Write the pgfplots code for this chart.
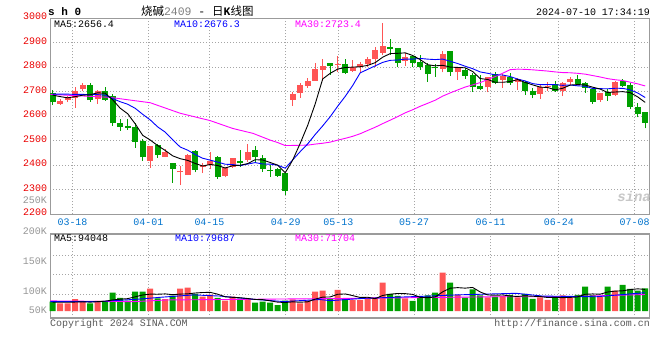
\documentclass[border=0pt]{standalone}
\usepackage{pgfplots}
\pgfplotsset{compat=1.18}
\usepackage{pgfplotstable}
\usepackage{fontspec}
\setmainfont{Liberation Mono}
\newfontfamily\cjk{Noto Sans CJK SC}
\definecolor{kred}{RGB}{255,85,85}
\definecolor{kgreen}{RGB}{0,160,0}
\definecolor{tred}{RGB}{235,0,0}
\definecolor{tblue}{RGB}{0,115,205}
\definecolor{grd}{RGB}{165,165,165}
\definecolor{frm}{RGB}{155,155,155}
\definecolor{vgray}{RGB}{150,150,150}
\definecolor{mag}{RGB}{255,0,255}
\definecolor{mablue}{RGB}{0,0,255}

\pgfplotstableread{
i O H L C V
1 2651 2669 2647 2662 33.5
2 2667 2682 2657 2677 33.5
3 2673 2721 2635 2704 52
4 2710 2734 2701 2729 40.7
6 2669 2707 2650 2701 43.6
13 2419 2478 2390 2477 97
15 2434 2466 2433 2454 52
17 2371 2395 2319 2375 97
18 2360 2444 2360 2442 101.6
20 2392 2410 2368 2401 62.4
21 2400 2452 2383 2418 71
23 2357 2394 2350 2390 45
24 2394 2431 2390 2428 62.4
26 2421 2485 2414 2452 53.7
32 2666 2700 2643 2691 50.8
33 2693 2734 2676 2727 33.5
34 2723 2755 2716 2744 45
35 2744 2816 2744 2793 84
36 2789 2833 2744 2805 88.5
38 2810 2846 2782 2814 91.4
40 2786 2829 2782 2802 48
41 2799 2823 2775 2813 48
42 2812 2843 2802 2833 59.5
43 2832 2881 2802 2870 59.5
44 2859 2982 2850 2886 123.3
47 2827 2859 2805 2843 55.2
52 2793 2867 2779 2854 166.8
54 2779 2795 2748 2795 69.7
58 2718 2761 2697 2761 59.5
60 2748 2771 2716 2765 65.3
62 2738 2755 2707 2750 59.5
65 2690 2727 2670 2720 59.5
66 2721 2741 2704 2725 48
68 2704 2741 2682 2734 68.2
69 2741 2761 2727 2752 58
73 2666 2696 2659 2696 62.4
75 2687 2745 2682 2741 88.5
}\redtab

\pgfplotstableread{
i O H L C V
0 2695 2705 2645 2656 40.7
5 2729 2734 2659 2666 33.5
7 2701 2721 2663 2668 43.6
8 2684 2691 2561 2571 79.8
9 2571 2590 2541 2557 56.6
10 2560 2587 2544 2553 45
11 2556 2574 2471 2496 84
12 2500 2507 2418 2432 84
14 2482 2486 2431 2442 55
16 2409 2410 2329 2386 66.8
19 2458 2461 2371 2380 74
22 2433 2439 2344 2353 56.6
25 2417 2462 2394 2410 53.7
27 2462 2477 2414 2432 36.4
28 2431 2442 2374 2385 40.7
29 2380 2401 2353 2376 36.4
30 2384 2390 2353 2356 26
31 2367 2369 2280 2296 45
37 2816 2816 2768 2806 55
39 2813 2833 2772 2775 52.3
45 2881 2914 2850 2876 74
46 2877 2878 2802 2818 65.3
48 2846 2850 2802 2816 43.6
49 2823 2850 2789 2802 58
50 2809 2818 2741 2772 68.2
51 2802 2813 2761 2795 79.8
53 2867 2867 2765 2779 123.3
55 2789 2798 2752 2765 58
56 2768 2775 2700 2718 94.3
57 2725 2768 2707 2711 68.2
59 2771 2780 2730 2737 62.4
61 2761 2775 2727 2734 69.7
63 2741 2745 2686 2703 74
64 2703 2714 2673 2687 52.3
67 2731 2745 2700 2704 62.4
70 2752 2768 2727 2731 69.7
71 2734 2741 2696 2716 105.9
72 2710 2714 2650 2659 69.7
74 2700 2710 2663 2682 105.9
76 2745 2752 2720 2723 113.2
77 2727 2737 2628 2639 95.8
78 2639 2655 2595 2609 88.5
79 2617 2617 2550 2574 98.7
}\greentab

\pgfplotstableread{
x y
0 2686
1 2680
2 2675
3 2680
4 2685.6
5 2687.6
6 2695.4
7 2693.6
8 2667
9 2632.6
10 2610
11 2569
12 2521.8
13 2503
14 2480
15 2460.2
16 2438.2
17 2426.6
18 2419.6
19 2407.2
20 2396.6
21 2403
22 2398.8
23 2388.4
24 2398
25 2399.8
26 2406.6
27 2422.4
28 2421.4
29 2411
30 2400.2
31 2369
32 2420.8
33 2489.2
34 2562.8
35 2650.2
36 2752
37 2775
38 2792.4
39 2798.6
40 2800.4
41 2802
42 2807.4
43 2818.6
44 2840.8
45 2855.6
46 2856.6
47 2858.6
48 2847.8
49 2831
50 2810.2
51 2805.6
52 2807.8
53 2800.4
54 2799
55 2797.6
56 2782.2
57 2753.6
58 2750
59 2738.4
60 2738.4
61 2741.6
62 2749.4
63 2737.8
64 2727.8
65 2718.8
66 2717
67 2707.8
68 2714
69 2727
70 2729.2
71 2727.4
72 2718.4
73 2710.8
74 2696.8
75 2698.8
76 2700.2
77 2696.2
78 2678.8
79 2656.4
}\mafive

\pgfplotstableread{
x y
0 2690
1 2690
2 2690
3 2689
4 2689
5 2688
6 2688
7 2686
8 2672
9 2659.1
10 2648.8
11 2632.2
12 2607.7
13 2585
14 2556.3
15 2535.1
16 2503.6
17 2474.2
18 2461.3
19 2443.6
20 2428.4
21 2420.6
22 2412.7
23 2404
24 2402.6
25 2398.2
26 2404.8
27 2410.6
28 2404.9
29 2404.5
30 2400
31 2387.8
32 2421.6
33 2455.3
34 2486.9
35 2525.2
36 2560.5
37 2597.9
38 2640.8
39 2680.7
40 2725.3
41 2777
42 2791.2
43 2805.5
44 2819.7
45 2828
46 2829.3
47 2833
48 2833.2
49 2835.9
50 2832.9
51 2831.1
52 2833.2
53 2824.1
54 2815
55 2803.9
56 2793.9
57 2780.7
58 2775.2
59 2768.7
60 2768
61 2761.9
62 2751.5
63 2743.9
64 2733.1
65 2728.6
66 2729.3
67 2728.6
68 2725.9
69 2727.4
70 2724
71 2722.2
72 2713.1
73 2712.4
74 2711.9
75 2714
76 2713.8
77 2707.3
78 2694.8
79 2676.3
}\maten

\pgfplotstableread{
x y
-0.3 2689
7.6 2677
10.3 2666
13 2655
17 2612
21 2582
24 2550
26.7 2530
29 2502.4
30 2492.4
31 2480.2
32 2480.7
33 2481.4
34 2481.9
35 2486.2
36 2489.6
37 2494.2
38 2502.3
39 2509.6
40 2517.9
41 2528.5
42 2541.8
43 2554.9
44 2569.7
45 2583.8
46 2598.2
47 2613.8
48 2626.3
49 2640.4
50 2652.7
51 2665.3
52 2682
53 2695
54 2707.2
55 2719
56 2727.9
57 2737.2
58 2749.7
59 2761.8
60 2775.4
61 2790
62 2792
63 2791.2
64 2789.3
65 2786.8
66 2784.2
67 2780.8
68 2778.1
69 2777.3
70 2775
71 2771.7
72 2765.9
73 2760.1
74 2753.3
75 2748.8
76 2745.7
77 2738.9
78 2732
79 2723.4
}\mathirty

\pgfplotstableread{
x y
0 38
1 38
2 38
3 39
4 40.1
5 38.6
6 40.7
7 42.7
8 48.2
9 51.4
10 53.7
11 61.8
12 69.9
13 73.3
14 73
15 74.4
16 71
17 73.6
18 74.5
19 78.3
20 80.4
21 81.2
22 73.1
23 61.8
24 59.5
25 57.7
26 54.3
27 50.2
28 49.4
29 44.2
30 38.6
31 36.9
32 39.8
33 38.3
34 40.1
35 51.7
36 60.4
37 61.2
38 72.8
39 74.2
40 67
41 58.9
42 59.8
43 53.5
44 67.7
45 72.9
46 76.3
47 75.5
48 72.3
49 59.2
50 58.1
51 61
52 83.3
53 99.2
54 101.6
55 99.5
56 102.4
57 82.7
58 69.9
59 68.5
60 69.9
61 65
62 63.3
63 66.2
64 64.2
65 63
66 58.7
67 59.2
68 58.1
69 59.2
70 61.3
71 72.8
72 74.3
73 73.1
74 82.7
75 86.5
76 87.9
77 93.2
78 96.4
79 94
}\vfive

\pgfplotstableread{
x y
-0.3 40.7
6.4 40.7
7.6 44
11.6 52
14.3 59.5
18.8 70
22.3 65
26.8 51
30.8 41
35.6 50
37 45
41.4 55
50.3 65
53.8 70
61.8 77
65.3 65
72.5 62
79 79.7
}\vten

\pgfplotstableread{
x y
-0.3 44
10.8 40.7
15.2 48
37 54
59.2 62
68 62
79 71.7
}\vthirty

\pgfplotsset{
  kbase/.style={
    scale only axis, width=599bp,
    xmin=-0.32, xmax=79.55,
    axis line style={frm, line width=1.4bp},
    tick style={draw=none},
    xtick={2.64,12.75,20.9,31.07,38.08,48.2,58.4,67.5,77.6},
    xmajorgrids, ymajorgrids,
    major grid style={grd, line width=0.9bp, dash pattern=on 1bp off 2bp},
    clip=false,
  },
  wick/.style={draw=none, mark=none, forget plot,
    error bars/.cd, y dir=plus, y explicit, error mark=none,
    error bar style={draw=#1, line width=1bp}},
  body/.style={draw=none, mark=none, forget plot,
    error bars/.cd, y dir=plus, y explicit, error mark=none,
    error bar style={draw=#1, line width=6bp}},
}

\begin{document}
\begin{tikzpicture}[x=1bp,y=1bp,every node/.style={font=\fontsize{10}{10}\selectfont}]
\path[use as bounding box, fill=white] (0,0) rectangle (660,360);

% main price panel
\begin{axis}[kbase, at={(50.3bp,145.8bp)}, anchor=south west, height=196bp,
  ymin=2200, ymax=3000,
  ytick={2200,2300,2400,2500,2600,2700,2800,2900,3000},
  yticklabels={2200,2300,2400,2500,2600,2700,2800,2900,3000},
  yticklabel style={font=\fontsize{10}{10}\selectfont, text=tred, anchor=east, inner sep=0pt, xshift=-3bp, yshift=1.5bp},
  xticklabels={03-18,04-01,04-15,04-29,05-13,05-27,06-11,06-24,07-08},
  xticklabel style={font=\fontsize{10}{10}\selectfont, text=tblue, anchor=north, inner sep=0pt, yshift=-4.5bp},
]
\addplot[wick=kgreen] table[x=i, y=L, y error plus expr=\thisrow{H}-\thisrow{L}] \greentab;
\addplot[wick=kred] table[x=i, y=L, y error plus expr=\thisrow{H}-\thisrow{L}] \redtab;
\addplot[body=kgreen] table[x=i, y=C, y error plus expr=\thisrow{O}-\thisrow{C}] \greentab;
\addplot[body=kred] table[x=i, y=O, y error plus expr=\thisrow{C}-\thisrow{O}] \redtab;
\addplot[mag, line width=0.9bp, mark=none] table[x=x,y=y] \mathirty;
\addplot[mablue, line width=0.9bp, mark=none] table[x=x,y=y] \maten;
\addplot[black, line width=0.9bp, mark=none] table[x=x,y=y] \mafive;
\end{axis}

% volume panel
\begin{axis}[kbase, at={(50.3bp,42bp)}, anchor=south west, height=84bp,
  ymin=-30.4, ymax=334.8, ytick={70,157,243}, yticklabels={}, xticklabels={}]
\addplot[ybar, bar width=6bp, bar shift=0pt, fill=kgreen, draw=none] table[x=i,y=V] \greentab;
\addplot[ybar, bar width=6bp, bar shift=0pt, fill=kred, draw=none] table[x=i,y=V] \redtab;
\addplot[mag, line width=0.9bp, mark=none] table[x=x,y=y] \vthirty;
\addplot[mablue, line width=0.9bp, mark=none] table[x=x,y=y] \vten;
\addplot[black, line width=0.9bp, mark=none] table[x=x,y=y] \vfive;
\end{axis}

% texts
\node[anchor=west, inner sep=0pt, font=\fontsize{11}{11}\selectfont\bfseries] at (48,348) {s h 0};
\node[anchor=west, inner sep=0pt, font=\fontsize{11.5}{12}\selectfont] at (141,348.5) {{\cjk 烧碱}\textcolor{gray}{2409} - {\cjk 日}\textbf{K}{\cjk 线图}};
\node[anchor=east, inner sep=0pt] at (650,348) {2024-07-10 17:34:19};
\node[anchor=west, inner sep=0pt] at (54,336) {MA5:2656.4};
\node[anchor=west, inner sep=0pt, text=mablue] at (174,336) {MA10:2676.3};
\node[anchor=west, inner sep=0pt, text=mag] at (295,336) {MA30:2723.4};
\node[anchor=west, inner sep=0pt] at (54,122) {MA5:94048};
\node[anchor=west, inner sep=0pt, text=mablue] at (175,122) {MA10:79687};
\node[anchor=west, inner sep=0pt, text=mag] at (295,122) {MA30:71704};
\node[anchor=east, inner sep=0pt, text=vgray] at (47,160) {250K};
\node[anchor=east, inner sep=0pt, text=vgray] at (47,129) {200K};
\node[anchor=east, inner sep=0pt, text=vgray] at (47,99) {150K};
\node[anchor=east, inner sep=0pt, text=vgray] at (47,69) {100K};
\node[anchor=east, inner sep=0pt, text=vgray] at (47,50) {50K};
\node[anchor=west, inner sep=0pt, text=black!65] at (50,36.5) {Copyright 2024 SINA.COM};
\node[anchor=east, inner sep=0pt, text=black!65] at (650,36.5) {http://finance.sina.com.cn};
\node[inner sep=0pt, text=black!22, font=\fontsize{14}{14}\selectfont\bfseries\itshape] at (634,163) {sina};
\end{tikzpicture}
\end{document}
